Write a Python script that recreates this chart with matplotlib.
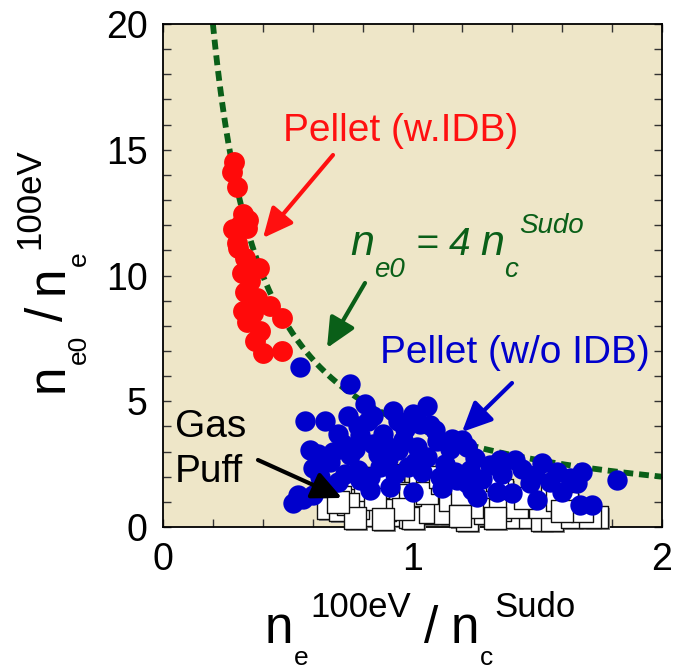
import numpy as np
import matplotlib
matplotlib.use("Agg")
import matplotlib.pyplot as plt
from matplotlib.transforms import ScaledTranslation

plt.rcParams['font.family'] = ['Liberation Sans', 'DejaVu Sans']

# ---------------- data ----------------
red_x = [0.285, 0.277, 0.296, 0.32, 0.28, 0.336, 0.296, 0.33, 0.316, 0.385, 0.35, 0.33,
         0.377, 0.32, 0.43, 0.477, 0.336, 0.39, 0.37, 0.40, 0.477, 0.36, 0.35, 0.30, 0.34, 0.31]
red_y = [14.5, 14.1, 13.5, 12.45, 11.85, 11.9, 11.3, 10.7, 10.1, 10.3, 9.8, 9.35,
         9.1, 8.6, 8.8, 8.3, 8.15, 7.8, 7.4, 6.9, 7.0, 8.5, 10.3, 11.1, 12.2, 12.0]

blue_x = [0.55, 0.75, 0.57, 0.65, 0.74, 0.81, 0.82, 0.92, 1.00, 1.06, 1.07, 0.70, 0.79,
          0.59, 0.62, 0.72, 0.86, 0.94, 1.02, 0.96, 0.67, 0.75, 0.60, 0.78, 0.87, 1.04,
          1.11, 0.91, 1.00, 0.79, 0.54, 0.52, 0.60, 0.70, 1.20, 1.16, 1.18, 0.83, 1.22,
          1.35, 1.41, 1.49, 1.58, 1.63, 1.68, 1.82, 1.34, 1.40, 1.47, 1.55, 1.66, 1.50,
          1.67, 1.72, 1.31, 1.23, 1.22, 1.09, 1.25, 1.24, 1.13, 1.15, 0.88, 0.97, 1.10,
          0.68, 0.84, 0.90, 0.98, 1.06, 0.73, 0.83, 0.93, 1.01, 1.12, 1.28, 1.44, 1.60,
          0.66, 0.63, 0.77, 0.84, 1.03, 0.78, 0.94, 1.17, 1.36, 1.52, 1.26, 0.89, 0.56]
blue_y = [6.35, 5.70, 4.20, 4.20, 4.40, 4.90, 4.20, 4.60, 4.50, 4.80, 4.05, 3.70, 3.65,
          3.05, 2.90, 3.30, 2.90, 3.05, 3.20, 3.45, 2.60, 2.85, 2.35, 2.25, 2.40, 2.20,
          2.00, 1.60, 1.40, 1.87, 1.27, 0.95, 1.27, 1.80, 3.45, 3.50, 1.87, 1.47, 3.20,
          2.66, 2.66, 2.07, 2.20, 1.95, 2.20, 1.87, 1.40, 1.35, 1.75, 1.79, 1.75, 1.07,
          0.87, 0.87, 2.46, 2.27, 1.75, 3.85, 2.75, 1.47, 2.50, 3.10, 3.70, 3.90, 3.40,
          3.00, 3.30, 2.70, 2.40, 2.80, 2.10, 2.00, 2.10, 2.60, 1.55, 1.90, 2.30, 1.40,
          1.60, 2.00, 3.10, 4.40, 4.10, 4.00, 4.20, 2.20, 2.10, 2.55, 1.20, 3.30, 1.10]

gas_x = [0.68, 0.75, 0.66, 0.71, 0.83, 0.78, 0.92, 0.99, 0.92, 1.00, 0.92, 0.95, 1.03,
         0.86, 1.12, 1.16, 1.10, 1.06, 0.89, 1.06, 0.78, 0.86, 1.00, 1.07, 1.13, 1.22,
         1.29, 1.30, 1.40, 1.47, 1.52, 1.56, 1.64, 1.74, 0.99, 1.06, 1.15, 1.24, 1.36,
         1.35, 1.42, 1.56, 1.62, 1.51, 1.28, 1.12, 1.11, 1.34, 1.58, 1.71, 0.71, 0.81,
         0.74, 0.85, 0.96, 1.20, 1.45, 1.68, 1.19, 0.88, 0.77, 1.33, 1.60, 0.70]
gas_y = [1.35, 1.40, 0.75, 0.68, 0.48, 0.75, 0.48, 0.40, 0.95, 0.95, 2.07, 1.35, 2.00,
         1.60, 0.75, 0.55, 1.35, 1.47, 0.68, 0.55, 1.95, 1.95, 0.36, 0.60, 0.55, 0.28,
         0.55, 0.95, 0.40, 0.40, 0.28, 0.28, 0.40, 0.40, 1.27, 1.35, 1.07, 0.80, 1.47,
         0.68, 0.80, 1.55, 0.95, 0.80, 1.60, 1.75, 2.00, 1.87, 1.07, 0.40, 1.20, 1.47,
         0.90, 1.10, 0.70, 1.30, 1.15, 0.65, 0.45, 0.30, 0.35, 0.35, 0.65, 1.00]

sudo_factor = 4.0
curve_x = np.linspace(0.2, 2.0, 400)
curve_y = sudo_factor / curve_x

x_ticks = [0, 1, 2]
y_ticks = [0, 5, 10, 15, 20]

# ---------------- figure ----------------
W, H = 677, 671
fig = plt.figure(figsize=(W / 100, H / 100), dpi=100)
ax = fig.add_axes([163 / W, 1 - 527 / H, (662 - 163) / W, (527 - 24) / H])
ax.set_facecolor('#EEE6C8')

green = '#0A5F18'
ax.plot(curve_x, curve_y, color=green, lw=4.2, linestyle=(0, (1.7, 1.0)), zorder=2,
        solid_capstyle='butt', dash_capstyle='butt')

shadow = ax.transData + ScaledTranslation(2 / 100, -2 / 100, fig.dpi_scale_trans)
ax.scatter(gas_x, gas_y, s=235, marker='s', c='#8A8A8A', linewidths=0, transform=shadow,
           zorder=3, clip_on=False)
ax.scatter(gas_x, gas_y, s=235, marker='s', c='white', edgecolors='#111111', linewidths=1.0,
           zorder=3, clip_on=False)
ax.scatter(blue_x, blue_y, s=215, c='#0000CC', linewidths=0, zorder=4)
ax.scatter(red_x, red_y, s=225, c='#FF0A0A', linewidths=0, zorder=5)

ax.set_xlim(0, 2)
ax.set_ylim(0, 20)
ax.set_xticks(x_ticks)
ax.set_yticks(y_ticks)
ax.set_xticklabels([str(v) for v in x_ticks])
ax.set_yticklabels([str(v) for v in y_ticks])
ax.xaxis.set_minor_locator(matplotlib.ticker.MultipleLocator(0.2))
ax.yaxis.set_minor_locator(matplotlib.ticker.MultipleLocator(1))
ax.tick_params(which='both', direction='in', top=True, right=True, length=6, width=1.0, color='#333333')
ax.tick_params(axis='x', which='major', labelsize=27, pad=11)
ax.tick_params(axis='y', which='major', labelsize=27, pad=11)
for sp in ax.spines.values():
    sp.set_linewidth(1.3)


def px2data(px, py):
    return ((px - 163) / 249.5, (527 - py) / 25.15)


def arrow(tail, tip, color):
    ax.annotate('', xy=px2data(*tip), xytext=px2data(*tail),
                arrowprops=dict(arrowstyle='-|>,head_length=0.9,head_width=0.42',
                                lw=3, color=color, shrinkA=0, shrinkB=0, mutation_scale=20),
                zorder=6)


arrow((333, 155), (263, 238), '#FF1010')
arrow((365, 283), (327, 348), green)
arrow((512, 383), (462, 432), '#0000CC')
arrow((258, 460), (342, 498), 'black')

renderer = fig.canvas.get_renderer()


def seq_text(x0, y0, pieces, rot=False, **kw):
    """pieces: (text, size, dy_px_up, gap_before_px); x0,y0 image coords (top-left origin)."""
    pos = x0 if not rot else H - y0
    for s, size, dy, gap in pieces:
        pos += gap
        if not rot:
            t = fig.text(pos, H - y0 + dy, s, transform=None, fontsize=size,
                         ha='left', va='baseline', **kw)
            pos += t.get_window_extent(renderer).width
        else:
            t = fig.text(x0 - dy, pos, s, transform=None, fontsize=size, rotation=90,
                         rotation_mode='anchor', ha='left', va='baseline', **kw)
            pos += t.get_window_extent(renderer).height


def ftext(px, py, s, **kw):
    fig.text(px, H - py, s, transform=None, ha='left', va='baseline', **kw)


ftext(283, 141, 'Pellet (w.IDB)', fontsize=28, color='#FF1010')
ftext(380, 363, 'Pellet (w/o IDB)', fontsize=28, color='#0000CC')
ftext(175, 437, 'Gas', fontsize=28, color='black')
ftext(175, 482, 'Puff', fontsize=28, color='black')

seq_text(350, 255, [('n', 31, 0, 0), ('e0', 20, -22, 0), ('=', 28, 0, 11), ('4', 28, 0, 10),
                    ('n', 31, 0, 10), ('c', 20, -22, 0), ('Sudo', 20, 22, 1)],
         color=green, fontstyle='italic')

seq_text(265, 643, [('n', 37, 0, 0), ('e', 19, -22, 0), ('100eV', 25, 26, 2),
                    ('/', 37, 0, 13), ('n', 37, 0, 13), ('c', 19, -22, 0), ('Sudo', 25, 26, 2)],
         color='black')

seq_text(63, 392, [('n', 37, 0, 0), ('e0', 19, -23, 0), ('/', 37, 0, 13),
                   ('n', 37, 0, 13), ('e', 19, -23, 0), ('100eV', 25, 24, 2)],
         rot=True, color='black')

fig.savefig('out.png', dpi=100)
